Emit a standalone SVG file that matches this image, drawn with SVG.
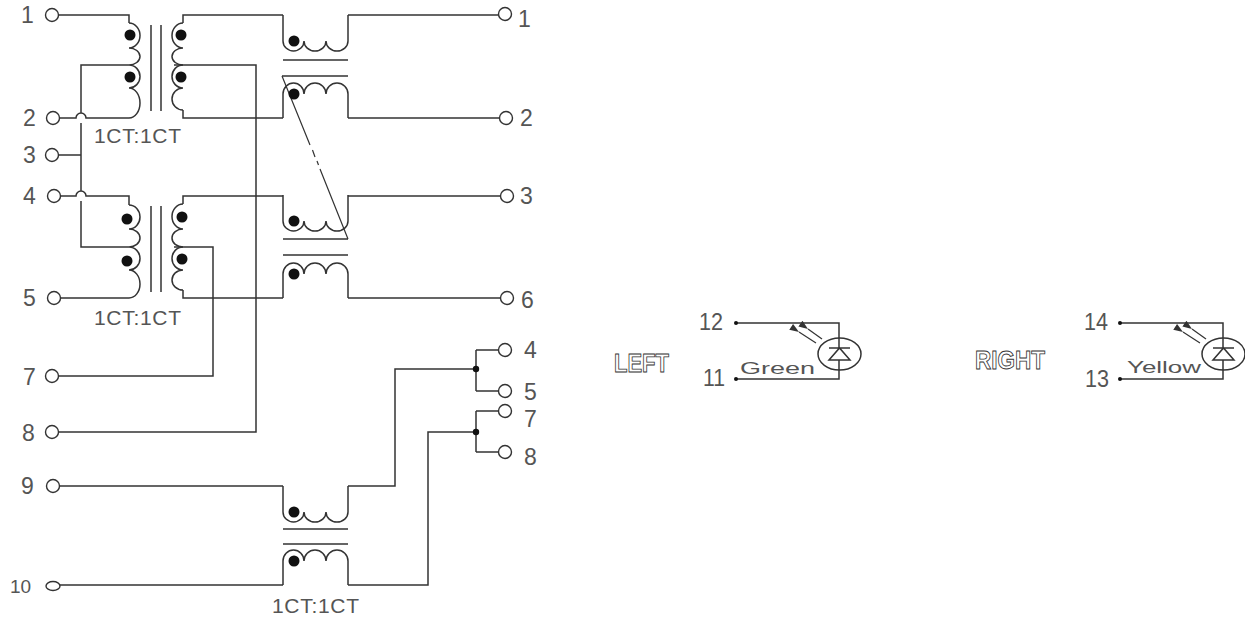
<svg xmlns="http://www.w3.org/2000/svg" width="1245" height="620" viewBox="0 0 1245 620">
<style>
.l{fill:none;stroke:#333;stroke-width:1.5}
.t{fill:none;stroke:#333;stroke-width:1.2}
.p{fill:#fff;stroke:#333;stroke-width:1.4}
.d{fill:#111;stroke:none}
text{font-family:"Liberation Sans",Arial,sans-serif;fill:#555}
.n{font-size:23px}
.r{font-size:21px}
.c{font-size:16px}
.o{font-weight:700;font-size:26px;fill:#fff;stroke:#333;stroke-width:.9}
</style>
<defs>
<marker id="a" viewBox="0 0 8 6" refX="0" refY="3" markerWidth="10" markerHeight="7" markerUnits="userSpaceOnUse" orient="auto"><path d="M8,0L0,3L8,6Z" fill="#333"/></marker>
<g id="tu"><path class="l" d="M0,0V26A10.500,10 0 0 0 21,26A11,10 0 0 0 43,26A11,10 0 0 0 65,26V0"/><circle class="d" cx="11" cy="26" r="5.500"/></g>
<g id="tl"><path class="l" d="M0,0V-24A10.500,11 0 0 1 21,-24A11,11 0 0 1 43,-24A11,11 0 0 1 65,-24V0"/><circle class="d" cx="11" cy="-24" r="5.500"/></g>
<g id="led"><path class="l" d="M0,0H103V25M103,37V56H0"/><circle class="d" cx="0" cy="0" r="2"/><circle class="d" cx="0" cy="56" r="2"/><ellipse class="l" cx="103.500" cy="31" rx="21.500" ry="16"/><path class="l" d="M93,25H114M93,37H114L103.500,25Z"/><path class="t" d="M86,16L72,6" marker-end="url(#a)"/><path class="t" d="M80,20L63,9" marker-end="url(#a)"/></g>
</defs>
<g id="connectors">
<path class="l" d="M58,15H129V23M58,118H76A5,5 0 0 1 86,118H129M81,113V65H129M58,155H81M81,123V191M58,196H76A5,5 0 0 1 86,196H129V205M81,201V247H129M58,298H129"/>
<path class="l" d="M283,15H183V23M174,65H256V432H59M283,118H183V110M283,196H183V204M174,247H213V376H58M283,298H183V290"/>
<path class="l" d="M129,23A11,12.500 0 0 1 129,48A11,8.500 0 0 1 129,65A11,11.500 0 0 1 129,88A11,15 0 0 1 129,118"/>
<path class="l" d="M183,23A11,12.500 0 0 0 183,48A11,8.500 0 0 0 183,65A11,11.500 0 0 0 183,88A11,11 0 0 0 183,110"/>
<path class="l" d="M129,205A11,12 0 0 1 129,229A11,9 0 0 1 129,247A11,11.500 0 0 1 129,270A11,14 0 0 1 129,298"/>
<path class="l" d="M183,204A11,12.500 0 0 0 183,229A11,9 0 0 0 183,247A11,11.500 0 0 0 183,270A11,10 0 0 0 183,290"/>
<path class="l" d="M151,25V111M161,25V111M151,206V292M161,206V292"/>
<path class="l" d="M283,60H348M282,76H348M283,239H348M283,255H348M283,529H348M283,544H348"/>
<path class="t" d="M282,76L310,145M312.500,150L315,157M317,161L318.500,165M320,169L348,239"/>
<path class="l" d="M348,15H499M348,118H500M348,196H500M348,298H500"/>
<path class="l" d="M59,486H283M348,486H395V369H476M476,350V391M476,350H499M476,391H499M59,585H283M348,585H428V432H476M476,411V452M476,411H499M476,452H499"/>
</g>
<g id="t1-primary-dots"><circle class="d" cx="130" cy="35" r="5.500"/><circle class="d" cx="130" cy="77" r="5.500"/></g>
<g id="t1-secondary-dots"><circle class="d" cx="181" cy="35" r="5.500"/><circle class="d" cx="181" cy="77" r="5.500"/></g>
<g id="t2-primary-dots"><circle class="d" cx="127" cy="219" r="5.500"/><circle class="d" cx="127" cy="261" r="5.500"/></g>
<g id="t2-secondary-dots"><circle class="d" cx="182" cy="217" r="5.500"/><circle class="d" cx="182" cy="259" r="5.500"/></g>
<g id="choke1"><use href="#tu" x="283" y="15"/><use href="#tl" x="283" y="118"/></g>
<g id="choke2"><use href="#tu" x="283" y="195"/><use href="#tl" x="283" y="298"/></g>
<g id="choke3"><use href="#tu" x="283" y="486"/><use href="#tl" x="283" y="585"/></g>
<g id="junctions"><circle class="d" cx="476" cy="369" r="3.200"/><circle class="d" cx="476" cy="432" r="3.200"/></g>
<g id="pin-l1"><circle class="p" cx="52" cy="15" r="6.500"/><text class="n" x="21" y="23">1</text></g>
<g id="pin-l2"><circle class="p" cx="53" cy="118" r="6.500"/><text class="n" x="23" y="126">2</text></g>
<g id="pin-l3"><circle class="p" cx="52" cy="155" r="6.500"/><text class="n" x="23" y="163">3</text></g>
<g id="pin-l4"><circle class="p" cx="54" cy="196" r="6.500"/><text class="n" x="23" y="204">4</text></g>
<g id="pin-l5"><circle class="p" cx="54" cy="298" r="6.500"/><text class="n" x="23" y="306">5</text></g>
<g id="pin-l7"><circle class="p" cx="52" cy="376" r="6.500"/><text class="n" x="23" y="385">7</text></g>
<g id="pin-l8"><circle class="p" cx="52" cy="432" r="6.500"/><text class="n" x="22" y="441">8</text></g>
<g id="pin-l9"><circle class="p" cx="53" cy="486" r="6.500"/><text class="n" x="21" y="494">9</text></g>
<g id="pin-l10"><ellipse class="p" cx="53" cy="586" rx="7" ry="4.500"/><text x="10" y="593" style="font-size:19px">10</text></g>
<g id="pin-r1"><circle class="p" cx="505" cy="14" r="6.500"/><text class="n" x="518" y="27">1</text></g>
<g id="pin-r2"><circle class="p" cx="506" cy="118" r="6.500"/><text class="n" x="520" y="126">2</text></g>
<g id="pin-r3"><circle class="p" cx="507" cy="196" r="6.500"/><text class="n" x="520" y="204">3</text></g>
<g id="pin-r6"><circle class="p" cx="507" cy="298" r="6.500"/><text class="n" x="521" y="308">6</text></g>
<g id="pin-r4"><circle class="p" cx="505" cy="350" r="6.500"/><text class="n" x="524" y="358">4</text></g>
<g id="pin-r5"><circle class="p" cx="505" cy="391" r="6.500"/><text class="n" x="524" y="400">5</text></g>
<g id="pin-r7"><circle class="p" cx="505" cy="411" r="6.500"/><text class="n" x="524" y="427">7</text></g>
<g id="pin-r8"><circle class="p" cx="505" cy="452" r="6.500"/><text class="n" x="524" y="465">8</text></g>
<g id="ratio-labels">
<text class="r" x="94" y="143" textLength="87" lengthAdjust="spacing">1CT:1CT</text>
<text class="r" x="94" y="325" textLength="87" lengthAdjust="spacing">1CT:1CT</text>
<text class="r" x="272" y="613" textLength="87" lengthAdjust="spacing">1CT:1CT</text>
</g>
<g id="led-left"><use href="#led" x="736" y="323"/>
<text class="o" x="614" y="372" textLength="55" lengthAdjust="spacingAndGlyphs">LEFT</text>
<text class="n" x="699" y="330" textLength="24" lengthAdjust="spacingAndGlyphs">12</text>
<text class="n" x="703" y="386" textLength="22" lengthAdjust="spacingAndGlyphs">11</text>
<text class="c" x="740" y="374" textLength="75" lengthAdjust="spacingAndGlyphs">Green</text></g>
<g id="led-right"><use href="#led" x="1120" y="323"/>
<text class="o" x="975" y="369" textLength="70" lengthAdjust="spacingAndGlyphs">RIGHT</text>
<text class="n" x="1084" y="330" textLength="24" lengthAdjust="spacingAndGlyphs">14</text>
<text class="n" x="1085" y="387" textLength="24" lengthAdjust="spacingAndGlyphs">13</text>
<text class="c" x="1127" y="373" textLength="74" lengthAdjust="spacingAndGlyphs">Yellow</text></g>
</svg>
